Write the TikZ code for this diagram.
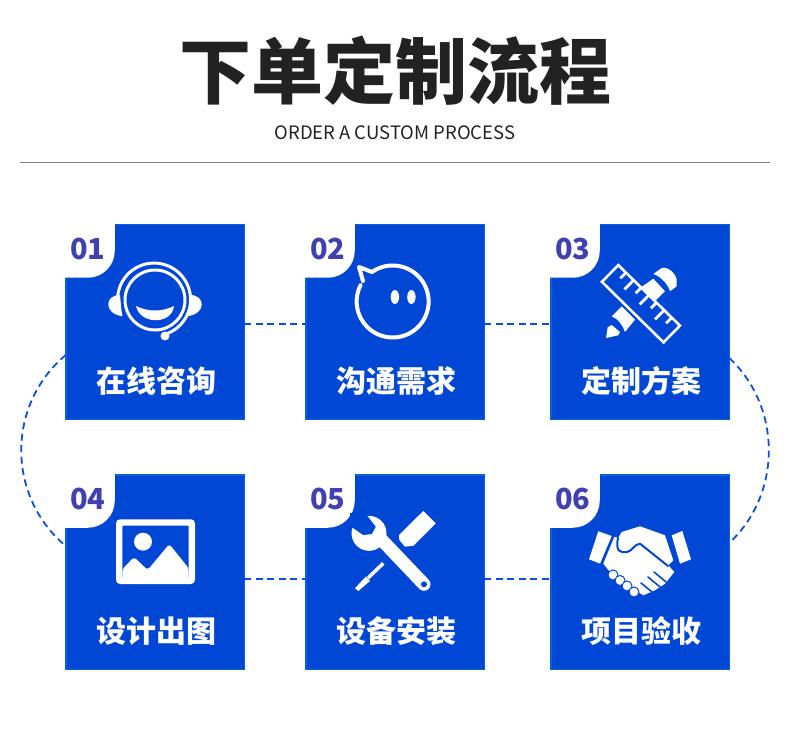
\documentclass[tikz,border=0pt]{standalone}
\usepackage{fontspec}
\setmainfont{Noto Sans CJK SC}
\usepackage{tikz}
\usetikzlibrary{positioning}
\definecolor{cardblue}{HTML}{0047D5}
\definecolor{cardedge}{HTML}{0762DC}
\definecolor{linkblue}{HTML}{0B50DC}
\definecolor{numblue}{HTML}{4040B0}
\definecolor{inkdark}{HTML}{222222}
\begin{document}
\begin{tikzpicture}[x=1pt,y=-1pt,
			      card/.style={rectangle, draw=cardedge, fill=cardblue, line width=1.5pt, minimum width=178.5pt, minimum height=194.5pt, outer sep=0pt},
			      cardtext/.style={text=white, font=\fontsize{30}{30}\selectfont\bfseries, inner sep=0pt},
			      numtext/.style={text=numblue, font=\fontsize{29}{29}\selectfont\bfseries, inner sep=0pt},
			      link/.style={draw=linkblue, line width=1.8pt, dash pattern=on 7pt off 4.5pt},
			      iconline/.style={draw=white, line width=3pt, line cap=round, line join=round}]
		      \useasboundingbox (0,0) rectangle (790,735);
		      \node[text=inkdark, font=\fontsize{72}{72}\selectfont\bfseries, inner sep=0pt] (title) at (395,71) {下单定制流程};
		      \node[text=inkdark, font=\fontsize{18.5}{18.5}\selectfont, inner sep=0pt] (subtitle) at (395,133) {ORDER A CUSTOM PROCESS};
		      \coordinate (ruleleft) at (20,163);
		      \coordinate (ruleright) at (770,163);
		      \draw[color=gray, line width=1pt] (ruleleft) -- (ruleright);
		      \node[card] (card1) at (155,322) {};
		      \node[card, right=61.5pt of card1] (card2) {};
		      \node[card, right=66.5pt of card2] (card3) {};
		      \node[card, below=55.5pt of card1] (card4) {};
		      \node[card, right=61.5pt of card4] (card5) {};
		      \node[card, right=66.5pt of card5] (card6) {};
		      \foreach \c/\n in {card1/01, card2/02, card3/03, card4/04, card5/05, card6/06} {
				      \fill[white, shift={(\c.north west)}] (-2,-2) -- (49,-2) -- (49,26) .. controls (49,41) and (37,53) .. (22,53) -- (-2,53) -- cycle;
				      \node[numtext] (num\n) at ([xshift=22pt,yshift=-24.5pt]\c.north west) {\n};
			      }
		      \node[cardtext] (label1) at (156,381) {在线咨询};
		      \node[cardtext] (label2) at (396,381) {沟通需求};
		      \node[cardtext] (label3) at (641,381) {定制方案};
		      \node[cardtext] (label4) at (156,631) {设计出图};
		      \node[cardtext] (label5) at (396,631) {设备安装};
		      \node[cardtext] (label6) at (641,631) {项目验收};
		      \draw[link] ([yshift=-2pt]card1.east) -- ([yshift=-2pt]card2.west);
		      \draw[link] ([yshift=-2pt]card2.east) -- ([yshift=-2pt]card3.west);
		      \draw[link] ([yshift=-7pt]card4.east) -- ([yshift=-7pt]card5.west);
		      \draw[link] ([yshift=-7pt]card5.east) -- ([yshift=-7pt]card6.west);
		      \draw[link] ([yshift=-33pt]card1.west) to[out=220,in=140,looseness=1.04] ([yshift=26pt]card4.west);
		      \draw[link] ([yshift=-36pt]card3.east) to[out=-43,in=43,looseness=1] ([yshift=29pt]card6.east);
		      \draw[iconline] (155,300) circle[radius=30];
		      \draw[iconline] (121,315) arc[start angle=155, end angle=430, radius=36.5] -- (165,336);
		      \fill[white] (165,336) circle[radius=4.5];
		      \fill[white] (120,295) .. controls (104,295) and (104,314) .. (122,316) -- cycle;
		      \fill[white] (190,295) .. controls (206,295) and (206,314) .. (188,316) -- cycle;
		      \fill[white] (136,306) .. controls (148,312) and (162,312) .. (174,306) .. controls (172,325) and (140,325) .. (136,306) -- cycle;
		      \draw[iconline, line width=4pt] (372,272) arc[start angle=235, end angle=567, radius=36];
		      \draw[iconline, line width=4pt] (372,272) -- (359,267) -- (363,281);
		      \fill[white] (394.9,297) ellipse[x radius=4.2, y radius=7];
		      \fill[white] (411.4,297) ellipse[x radius=4.2, y radius=7];
		      \fill[white] (606,338) -- (607.7,327.3) -- (611.7,325) -- (620,332) -- (618.3,335.3) -- cycle;
		      \fill[white] (611.7,316.3) -- (621.7,306.3) -- (635,319.7) -- (625,332) .. controls (622,324) and (618,319) .. (611.7,316.3) -- cycle;
		      \fill[white] (653.3,274) -- (661.7,268) .. controls (668,266) and (676,274) .. (676.7,280) -- (676.7,286.3) -- (670,291.3) .. controls (668,284) and (660,276) .. (653.3,274) -- cycle;
		      \fill[white] (640,288) -- (653.3,278.7) -- (665,291.3) -- (656,300) -- cycle;
		      \begin{scope}[shift={(618.3,263.3)}, rotate=-44.5]
			      \draw[draw=white, fill=cardblue, line width=2.6pt] (1.3,1.3) rectangle (87.7,24.7);
			      \foreach \t/\l in {12/8, 22.7/13, 33.4/8, 44.1/13, 54.8/8, 65.5/13, 76.2/8} {
					      \draw[draw=white, line width=2.8pt] (\t,1.3) -- (\t,1.3+\l);
				      }
		      \end{scope}
		      \fill[white, rounded corners=4pt] (116,519.3) rectangle (195,584);
		      \fill[cardblue, rounded corners=1pt] (122.3,525.7) rectangle (188.7,578);
		      \fill[white] (143,541.7) circle[radius=9];
		      \fill[white, rounded corners=3pt] (122.3,569.3) -- (134,557) -- (147.7,570) -- (169.3,544) -- (188.7,568.3) -- (188.7,580) -- (122.3,580) -- cycle;
		      \fill[white] (369,533.3) circle[radius=17.5];
		      \fill[cardblue] (365,513) -- (375.7,526.7) -- (372,534) -- (363.3,535) -- (350,526) -- (350,513) -- cycle;
		      \draw[draw=white, line width=13pt, line cap=round] (378,536) -- (424,584.3);
		      \fill[cardblue] (424,584.3) circle[radius=3];
		      \draw[draw=white, line width=3.5pt] (383.3,563.3) -- (368,578);
		      \fill[white] (365.7,576.7) -- (370,581) -- (358.3,591) -- (355,588.3) -- cycle;
		      \fill[white] (399,535) -- (423.3,511) -- (435.7,523.3) -- (413.3,545.7) -- (405,546.7) -- (399.3,540) -- cycle;
		      \fill[white] (598.3,531.3) -- (611.7,536) -- (600,563.7) -- (589,559.3) -- cycle;
		      \fill[white] (671.7,535.3) -- (682.3,531) -- (691,559.3) -- (680,563.7) -- cycle;
		      \fill[white] (603.3,563.7) -- (614.3,537) -- (618.3,537.7) -- (621.7,532) -- (640,526.3) -- (665,535.3) -- (673.3,560.3) -- (668.3,565.3) -- (674.3,572) -- (665,583.7) -- (655,590.3) -- (643.3,595.3) -- (635,590) -- (610,572) -- cycle;
		      \draw[draw=cardblue, line width=2pt, line cap=round, line join=round] (618,538) .. controls (615,552) and (621,553) .. (627,552) .. controls (633,551) and (634,544) .. (640,543.7) -- (668,566);
		      \draw[draw=cardblue, line width=1.6pt, line cap=round] (654,572) -- (666,582);
		      \draw[draw=cardblue, line width=1.6pt, line cap=round] (648,577) -- (660,587);
		      \draw[draw=cardblue, line width=1.6pt, line cap=round] (641,583) -- (652,592);
		      \foreach \x/\y in {613/575, 620/580.5, 627/586, 634/592} {
				      \draw[draw=cardblue, fill=white, line width=1pt] (\x,\y) circle[radius=5];
			      }
	      \end{tikzpicture}
\end{document}
